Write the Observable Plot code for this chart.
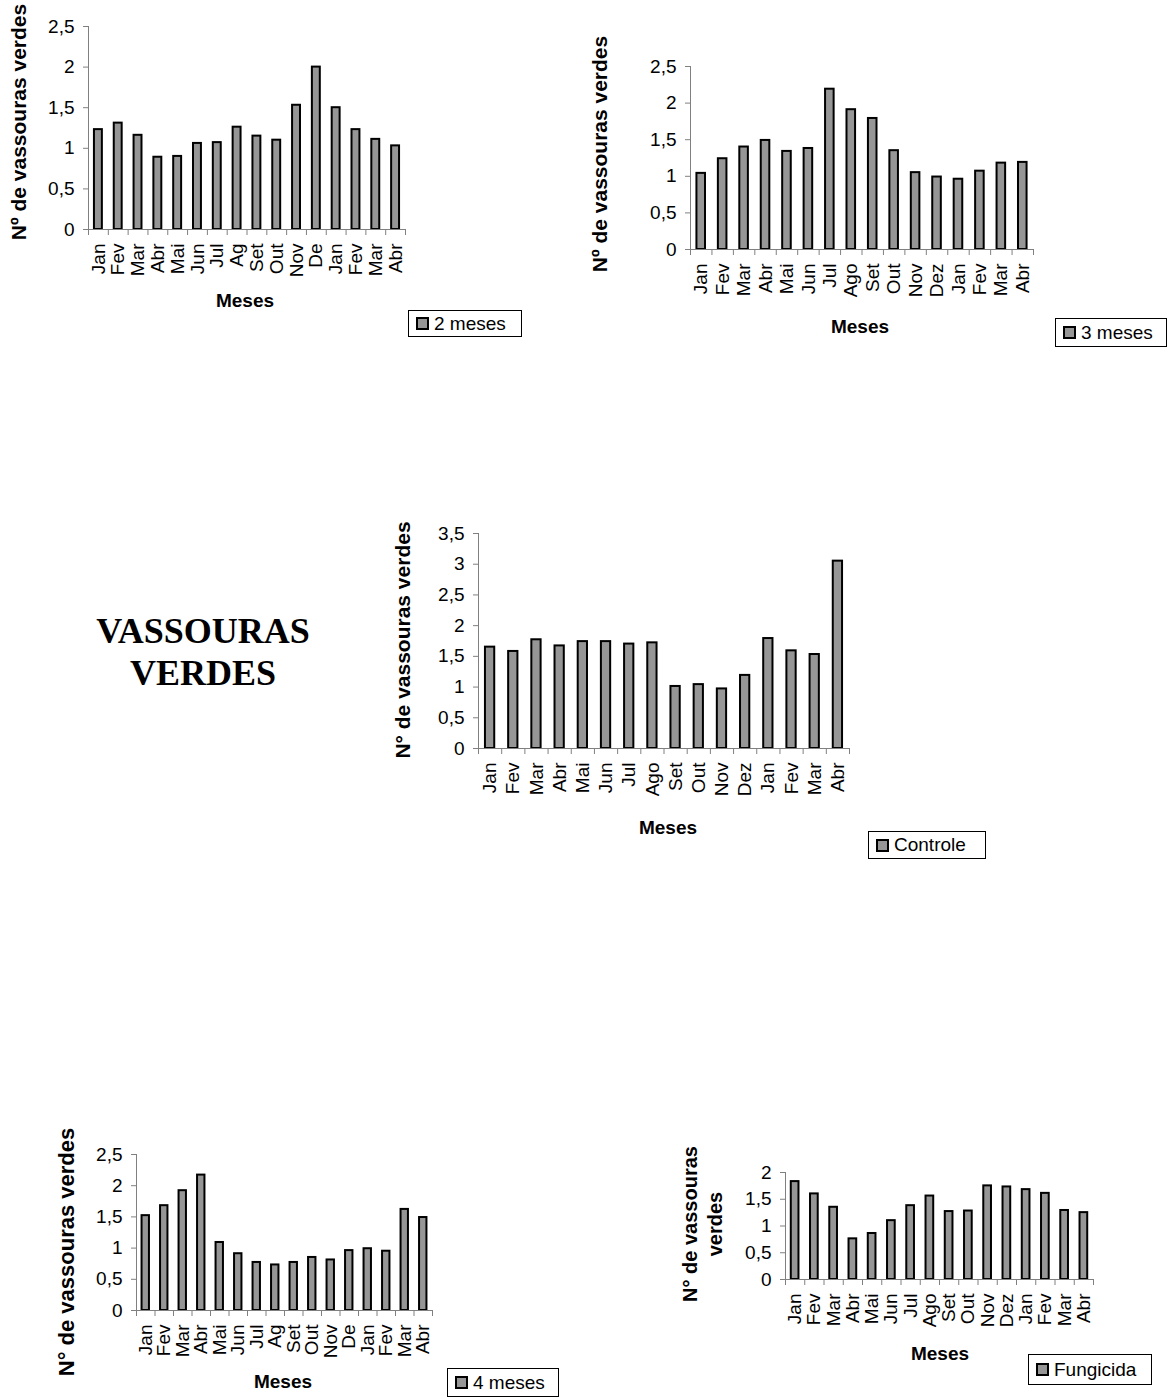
<!DOCTYPE html>
<html>
<head>
<meta charset="utf-8">
<script src="https://cdn.jsdelivr.net/npm/d3@7"></script>
<script src="https://cdn.jsdelivr.net/npm/@observablehq/plot@0.6"></script>
<style>
  html, body { margin: 0; padding: 0; background: #fff; }
  #page { position: relative; width: 1174px; height: 1398px; overflow: hidden; background: #fff; font-family: "Liberation Sans", Arial, sans-serif; color: #000; }
  .abs { position: absolute; }
  .ytitle { position: absolute; font-weight: bold; font-size: 21px; white-space: nowrap; transform: translate(-50%, -50%) rotate(-90deg); line-height: 1.25; text-align: center; }
  .xtitle { position: absolute; font-weight: bold; font-size: 19px; white-space: nowrap; transform: translateX(-50%); }
  .legend { position: absolute; border: 1px solid #000; background: #fff; box-sizing: border-box; display: flex; align-items: center; font-size: 19px; padding-left: 7px; white-space: nowrap; }
  .legend .sw { width: 9px; height: 9px; background: #969696; border: 2px solid #000; margin-right: 5px; flex: none; }
  .bigtitle { position: absolute; font-family: "Liberation Serif", "Times New Roman", serif; font-weight: bold; font-size: 36px; text-align: center; line-height: 42px; transform: translateX(-50%); white-space: nowrap; }
</style>
</head>
<body>
<div id="page"></div>
<script>
// ---- Data ----
const mesesAbrev = ["Jan","Fev","Mar","Abr","Mai","Jun","Jul","Ag","Set","Out","Nov","De","Jan","Fev","Mar","Abr"];
const mesesFull  = ["Jan","Fev","Mar","Abr","Mai","Jun","Jul","Ago","Set","Out","Nov","Dez","Jan","Fev","Mar","Abr"];

const valores2meses   = [1.23,1.31,1.16,0.89,0.90,1.06,1.07,1.26,1.15,1.10,1.53,2.00,1.50,1.23,1.11,1.03];
const valores3meses   = [1.04,1.24,1.40,1.49,1.34,1.38,2.19,1.91,1.79,1.35,1.05,0.99,0.96,1.07,1.18,1.19];
const valoresControle = [1.65,1.58,1.77,1.67,1.74,1.74,1.70,1.72,1.01,1.04,0.97,1.19,1.79,1.59,1.53,3.05];
const valores4meses   = [1.52,1.68,1.92,2.17,1.09,0.91,0.77,0.73,0.77,0.85,0.81,0.96,0.99,0.95,1.62,1.49];
const valoresFungicida= [1.83,1.60,1.35,0.76,0.86,1.10,1.38,1.56,1.27,1.28,1.75,1.73,1.68,1.61,1.29,1.25];

const ticks25 = [0,0.5,1,1.5,2,2.5];
const ticks35 = [0,0.5,1,1.5,2,2.5,3,3.5];
const ticks20 = [0,0.5,1,1.5,2];

const page = document.getElementById("page");
const fmt = d => String(d).replace(".", ",");

function chart({labels, values, yMax, yTicks, left, top, x0, x1, yTopPx, y0Px}) {
  const data = values.map((v, i) => ({i, v, m: labels[i]}));
  const n = labels.length;
  const marginRight = 15, marginBottom = 70;
  const svg = Plot.plot({
    width: x1 - left + marginRight,
    height: y0Px - top + marginBottom,
    marginLeft: x0 - left,
    marginRight,
    marginTop: yTopPx - top,
    marginBottom,
    style: {fontFamily: "'Liberation Sans', Arial, sans-serif", color: "#000", background: "transparent", overflow: "visible"},
    x: {domain: [0, n], axis: null},
    y: {domain: [0, yMax], axis: null},
    marks: [
      Plot.rectY(data, {x1: d => d.i + 0.3, x2: d => d.i + 0.7, y: "v", fill: "#969696", stroke: "#000", strokeWidth: 2}),
      Plot.ruleX([0], {stroke: "#808080"}),
      Plot.ruleY([0], {stroke: "#808080"}),
      Plot.axisY({ticks: yTicks, label: null, tickSize: 5, tickPadding: 9, tickFormat: fmt, fontSize: 19, stroke: "#808080", fill: "#000"}),
      Plot.axisX({ticks: d3.range(n + 1), label: null, tickSize: 6, tickFormat: () => "", stroke: "#808080"}),
      Plot.axisX({ticks: data.map(d => d.i + 0.5), label: null, tickSize: 0, tickPadding: 14, tickRotate: -90, tickFormat: t => labels[Math.floor(t)], fontSize: 19, fill: "#000"})
    ]
  });
  svg.style.position = "absolute";
  svg.style.left = left + "px";
  svg.style.top = top + "px";
  page.appendChild(svg);
}

function add(cls, html, css) {
  const el = document.createElement("div");
  el.className = cls;
  el.innerHTML = html;
  Object.assign(el.style, css);
  page.appendChild(el);
  return el;
}
function legend(text, x, y, w, h) {
  add("legend", '<div class="sw"></div><span>' + text + '</span>', {left: x + "px", top: y + "px", width: w + "px", height: h + "px"});
}

// Chart 1: 2 meses
chart({labels: mesesAbrev, values: valores2meses, yMax: 2.5, yTicks: ticks25, left: 30, top: 0, x0: 88, x1: 405, yTopPx: 26, y0Px: 229});
add("ytitle", "Nº de vassouras verdes", {left: "19px", top: "122px"});
add("xtitle", "Meses", {left: "245px", top: "290px"});
legend("2 meses", 408, 310, 114, 27);

// Chart 2: 3 meses
chart({labels: mesesFull, values: valores3meses, yMax: 2.5, yTicks: ticks25, left: 630, top: 40, x0: 690, x1: 1033, yTopPx: 66, y0Px: 249});
add("ytitle", "Nº de vassouras verdes", {left: "600px", top: "154px"});
add("xtitle", "Meses", {left: "860px", top: "316px"});
legend("3 meses", 1055, 318, 112, 29);

// Chart 3: Controle
chart({labels: mesesFull, values: valoresControle, yMax: 3.5, yTicks: ticks35, left: 420, top: 505, x0: 478, x1: 849, yTopPx: 533, y0Px: 748});
add("ytitle", "N° de vassouras verdes", {left: "403px", top: "640px"});
add("xtitle", "Meses", {left: "668px", top: "817px"});
legend("Controle", 868, 831, 118, 28);

// Title
add("bigtitle", "VASSOURAS<br>VERDES", {left: "203px", top: "610px"});

// Chart 4: 4 meses
chart({labels: mesesAbrev, values: valores4meses, yMax: 2.5, yTicks: ticks25, left: 80, top: 1130, x0: 136, x1: 432, yTopPx: 1154, y0Px: 1310});
const clip4 = add("abs", "", {left: "40px", top: "1112px", width: "60px", height: "290px", overflow: "hidden"});
const yt4 = document.createElement("div");
yt4.className = "ytitle";
yt4.textContent = "N° de vassouras verdes";
Object.assign(yt4.style, {left: "27px", top: "140px", fontSize: "22px"});
clip4.appendChild(yt4);
add("xtitle", "Meses", {left: "283px", top: "1371px"});
legend("4 meses", 447, 1368, 112, 29);

// Chart 5: Fungicida
chart({labels: mesesFull, values: valoresFungicida, yMax: 2, yTicks: ticks20, left: 730, top: 1150, x0: 785, x1: 1093, yTopPx: 1172, y0Px: 1279});
add("ytitle", "N° de vassouras<br>verdes", {left: "703px", top: "1224px", fontSize: "20px"});
add("xtitle", "Meses", {left: "940px", top: "1343px"});
legend("Fungicida", 1028, 1354, 124, 31);
</script>
</body>
</html>
